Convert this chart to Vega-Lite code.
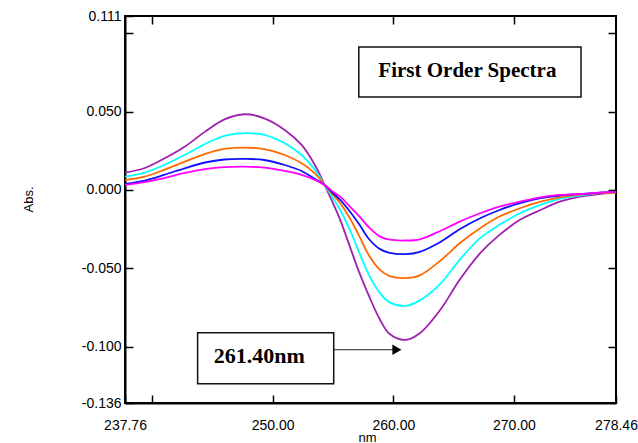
{
  "$schema": "https://vega.github.io/schema/vega-lite/v6.json",
  "width": 491,
  "height": 387,
  "autosize": {"type": "none"},
  "padding": {"left": 125, "top": 16, "right": 22, "bottom": 40},
  "background": "white",
  "config": {
    "view": {"stroke": "black", "strokeWidth": 2},
    "axis": {
      "grid": false,
      "domainColor": "black",
      "domainWidth": 2,
      "tickColor": "black",
      "tickWidth": 1.5,
      "tickSize": -8,
      "labelFont": "Liberation Sans",
      "labelFontSize": 14,
      "labelColor": "black",
      "titleFont": "Liberation Sans",
      "titleFontSize": 13,
      "titleFontWeight": "normal",
      "titleColor": "black"
    }
  },
  "datasets": {
    "curves": [
      {"nm":237.76,"s":"1","abs":0.0110},{"nm":239.4,"s":"1","abs":0.0140},{"nm":241.0,"s":"1","abs":0.0200},{"nm":242.7,"s":"1","abs":0.0276},{"nm":244.4,"s":"1","abs":0.0372},{"nm":246.0,"s":"1","abs":0.0450},{"nm":247.7,"s":"1","abs":0.0483},{"nm":249.3,"s":"1","abs":0.0457},{"nm":251.0,"s":"1","abs":0.0383},{"nm":252.4,"s":"1","abs":0.0287},{"nm":253.5,"s":"1","abs":0.0159},{"nm":254.3,"s":"1","abs":0.0032},{"nm":255.0,"s":"1","abs":-0.0085},{"nm":255.6,"s":"1","abs":-0.0191},{"nm":256.4,"s":"1","abs":-0.0362},{"nm":257.2,"s":"1","abs":-0.0531},{"nm":258.0,"s":"1","abs":-0.0680},{"nm":258.9,"s":"1","abs":-0.0829},{"nm":259.7,"s":"1","abs":-0.0920},{"nm":261.0,"s":"1","abs":-0.0957},{"nm":262.2,"s":"1","abs":-0.0915},{"nm":263.9,"s":"1","abs":-0.0765},{"nm":265.5,"s":"1","abs":-0.0574},{"nm":267.2,"s":"1","abs":-0.0404},{"nm":268.8,"s":"1","abs":-0.0287},{"nm":270.5,"s":"1","abs":-0.0191},{"nm":272.2,"s":"1","abs":-0.0128},{"nm":273.8,"s":"1","abs":-0.0075},{"nm":275.5,"s":"1","abs":-0.0043},{"nm":277.1,"s":"1","abs":-0.0026},{"nm":278.46,"s":"1","abs":-0.0017},
      {"nm":237.76,"s":"2","abs":0.0085},{"nm":239.4,"s":"2","abs":0.0110},{"nm":241.0,"s":"2","abs":0.0159},{"nm":242.7,"s":"2","abs":0.0223},{"nm":244.4,"s":"2","abs":0.0293},{"nm":246.0,"s":"2","abs":0.0345},{"nm":247.7,"s":"2","abs":0.0362},{"nm":249.3,"s":"2","abs":0.0351},{"nm":251.0,"s":"2","abs":0.0298},{"nm":252.4,"s":"2","abs":0.0223},{"nm":253.5,"s":"2","abs":0.0128},{"nm":254.3,"s":"2","abs":0.0032},{"nm":255.0,"s":"2","abs":-0.0053},{"nm":255.6,"s":"2","abs":-0.0128},{"nm":256.4,"s":"2","abs":-0.0255},{"nm":257.2,"s":"2","abs":-0.0404},{"nm":258.0,"s":"2","abs":-0.0545},{"nm":258.9,"s":"2","abs":-0.0659},{"nm":259.7,"s":"2","abs":-0.0718},{"nm":261.0,"s":"2","abs":-0.0740},{"nm":262.2,"s":"2","abs":-0.0705},{"nm":263.9,"s":"2","abs":-0.0600},{"nm":265.5,"s":"2","abs":-0.0446},{"nm":267.2,"s":"2","abs":-0.0308},{"nm":268.8,"s":"2","abs":-0.0223},{"nm":270.5,"s":"2","abs":-0.0149},{"nm":272.2,"s":"2","abs":-0.0096},{"nm":273.8,"s":"2","abs":-0.0057},{"nm":275.5,"s":"2","abs":-0.0036},{"nm":277.1,"s":"2","abs":-0.0021},{"nm":278.46,"s":"2","abs":-0.0017},
      {"nm":237.76,"s":"3","abs":0.0064},{"nm":239.4,"s":"3","abs":0.0085},{"nm":241.0,"s":"3","abs":0.0128},{"nm":242.7,"s":"3","abs":0.0180},{"nm":244.4,"s":"3","abs":0.0230},{"nm":246.0,"s":"3","abs":0.0262},{"nm":247.7,"s":"3","abs":0.0270},{"nm":249.3,"s":"3","abs":0.0261},{"nm":251.0,"s":"3","abs":0.0223},{"nm":252.4,"s":"3","abs":0.0170},{"nm":253.5,"s":"3","abs":0.0106},{"nm":254.3,"s":"3","abs":0.0032},{"nm":255.0,"s":"3","abs":-0.0032},{"nm":255.6,"s":"3","abs":-0.0085},{"nm":256.4,"s":"3","abs":-0.0181},{"nm":257.2,"s":"3","abs":-0.0298},{"nm":258.0,"s":"3","abs":-0.0420},{"nm":258.9,"s":"3","abs":-0.0510},{"nm":259.7,"s":"3","abs":-0.0550},{"nm":261.0,"s":"3","abs":-0.0563},{"nm":262.2,"s":"3","abs":-0.0545},{"nm":263.9,"s":"3","abs":-0.0452},{"nm":265.5,"s":"3","abs":-0.0340},{"nm":267.2,"s":"3","abs":-0.0244},{"nm":268.8,"s":"3","abs":-0.0170},{"nm":270.5,"s":"3","abs":-0.0117},{"nm":272.2,"s":"3","abs":-0.0075},{"nm":273.8,"s":"3","abs":-0.0047},{"nm":275.5,"s":"3","abs":-0.0030},{"nm":277.1,"s":"3","abs":-0.0021},{"nm":278.46,"s":"3","abs":-0.0017},
      {"nm":237.76,"s":"4","abs":0.0038},{"nm":239.4,"s":"4","abs":0.0060},{"nm":241.0,"s":"4","abs":0.0096},{"nm":242.7,"s":"4","abs":0.0138},{"nm":244.4,"s":"4","abs":0.0175},{"nm":246.0,"s":"4","abs":0.0194},{"nm":247.7,"s":"4","abs":0.0198},{"nm":249.3,"s":"4","abs":0.0191},{"nm":251.0,"s":"4","abs":0.0159},{"nm":252.4,"s":"4","abs":0.0121},{"nm":253.5,"s":"4","abs":0.0070},{"nm":254.3,"s":"4","abs":0.0032},{"nm":255.0,"s":"4","abs":-0.0021},{"nm":255.6,"s":"4","abs":-0.0064},{"nm":256.4,"s":"4","abs":-0.0138},{"nm":257.2,"s":"4","abs":-0.0223},{"nm":258.0,"s":"4","abs":-0.0315},{"nm":258.9,"s":"4","abs":-0.0378},{"nm":259.7,"s":"4","abs":-0.0402},{"nm":261.0,"s":"4","abs":-0.0410},{"nm":262.2,"s":"4","abs":-0.0395},{"nm":263.9,"s":"4","abs":-0.0332},{"nm":265.5,"s":"4","abs":-0.0251},{"nm":267.2,"s":"4","abs":-0.0181},{"nm":268.8,"s":"4","abs":-0.0128},{"nm":270.5,"s":"4","abs":-0.0085},{"nm":272.2,"s":"4","abs":-0.0053},{"nm":273.8,"s":"4","abs":-0.0036},{"nm":275.5,"s":"4","abs":-0.0026},{"nm":277.1,"s":"4","abs":-0.0017},{"nm":278.46,"s":"4","abs":-0.0013},
      {"nm":237.76,"s":"5","abs":0.0032},{"nm":239.4,"s":"5","abs":0.0050},{"nm":241.0,"s":"5","abs":0.0075},{"nm":242.7,"s":"5","abs":0.0108},{"nm":244.4,"s":"5","abs":0.0133},{"nm":246.0,"s":"5","abs":0.0146},{"nm":247.7,"s":"5","abs":0.0149},{"nm":249.3,"s":"5","abs":0.0142},{"nm":251.0,"s":"5","abs":0.0121},{"nm":252.4,"s":"5","abs":0.0096},{"nm":253.5,"s":"5","abs":0.0064},{"nm":254.3,"s":"5","abs":0.0032},{"nm":255.0,"s":"5","abs":-0.0011},{"nm":255.6,"s":"5","abs":-0.0043},{"nm":256.4,"s":"5","abs":-0.0106},{"nm":257.2,"s":"5","abs":-0.0170},{"nm":258.0,"s":"5","abs":-0.0240},{"nm":258.9,"s":"5","abs":-0.0298},{"nm":259.7,"s":"5","abs":-0.0318},{"nm":261.0,"s":"5","abs":-0.0323},{"nm":262.2,"s":"5","abs":-0.0315},{"nm":263.9,"s":"5","abs":-0.0262},{"nm":265.5,"s":"5","abs":-0.0202},{"nm":267.2,"s":"5","abs":-0.0149},{"nm":268.8,"s":"5","abs":-0.0106},{"nm":270.5,"s":"5","abs":-0.0075},{"nm":272.2,"s":"5","abs":-0.0047},{"nm":273.8,"s":"5","abs":-0.0032},{"nm":275.5,"s":"5","abs":-0.0026},{"nm":277.1,"s":"5","abs":-0.0017},{"nm":278.46,"s":"5","abs":-0.0013}
    ],
    "boxes": [
      {"x1": 257.14, "x2": 275.56, "y1": 0.0912, "y2": 0.0593},
      {"x1": 243.78, "x2": 255.06, "y1": -0.0912, "y2": -0.1237}
    ],
    "title1": [{"x": 266.14, "y": 0.0723, "t": "First Order Spectra"}],
    "title2": [{"x": 248.89, "y": -0.1105, "t": "261.40nm"}],
    "arrow": [{"x1": 255.06, "x2": 260.0, "y": -0.102}],
    "head": [{"x": 260.3, "y": -0.102}]
  },
  "resolve": {"axis": {"x": "independent", "y": "independent"}},
  "layer": [
    {
      "data": {"name": "curves"},
      "mark": {"type": "line", "strokeWidth": 1.8, "interpolate": "catmull-rom"},
      "encoding": {
        "x": {
          "field": "nm", "type": "quantitative",
          "scale": {"domain": [237.76, 278.46], "nice": false, "zero": false},
          "axis": {
            "orient": "bottom",
            "values": [237.76, 240, 250, 260, 270, 278.46],
            "labelExpr": "datum.value == 240 ? '' : format(datum.value, '.2f')",
            "labelPadding": 23,
            "labelFlush": false,
            "labelOverlap": false,
            "title": "nm",
            "titleBaseline": "top",
            "titleY": 28,
            "titleX": 242,
            "titleFontSize": 13
          }
        },
        "y": {
          "field": "abs", "type": "quantitative",
          "scale": {"domain": [-0.136, 0.111], "nice": false, "zero": false},
          "axis": {
            "orient": "left",
            "values": [-0.136, -0.1, -0.05, 0, 0.05, 0.1, 0.111],
            "labelExpr": "datum.value == 0.1 ? '' : replace(format(datum.value, '.3f'), '\u2212', '-')",
            "labelPadding": 12,
            "labelFlush": false,
            "labelOverlap": false,
            "title": "Abs.",
            "titleAngle": -90,
            "titleAlign": "center",
            "titleBaseline": "middle",
            "titleX": -97,
            "titleY": 183
          }
        },
        "color": {
          "field": "s", "type": "nominal",
          "scale": {"domain": ["1", "2", "3", "4", "5"], "range": ["#A020B0", "#00FFFF", "#FF6A00", "#1010FF", "#FF00FF"]},
          "legend": null
        }
      }
    },
    {
      "data": {"name": "boxes"},
      "mark": {"type": "rect", "fill": "white", "stroke": "#111111", "strokeWidth": 1.5},
      "encoding": {
        "x": {"field": "x1", "type": "quantitative", "scale": {"domain": [237.76, 278.46], "nice": false, "zero": false},
              "axis": {"orient": "top", "values": [240, 250, 260, 270], "labels": false, "domain": false, "title": null}},
        "x2": {"field": "x2"},
        "y": {"field": "y1", "type": "quantitative", "scale": {"domain": [-0.136, 0.111], "nice": false, "zero": false},
              "axis": {"orient": "right", "values": [-0.1, -0.05, 0, 0.05, 0.1], "labels": false, "domain": false, "title": null}},
        "y2": {"field": "y2"}
      }
    },
    {
      "data": {"name": "title1"},
      "mark": {"type": "text", "font": "Liberation Serif", "fontWeight": "bold", "fontSize": 21, "align": "center", "baseline": "alphabetic", "color": "black"},
      "encoding": {
        "x": {"field": "x", "type": "quantitative", "axis": null},
        "y": {"field": "y", "type": "quantitative", "axis": null},
        "text": {"field": "t"}
      }
    },
    {
      "data": {"name": "title2"},
      "mark": {"type": "text", "font": "Liberation Serif", "fontWeight": "bold", "fontSize": 22, "align": "center", "baseline": "alphabetic", "color": "black"},
      "encoding": {
        "x": {"field": "x", "type": "quantitative", "axis": null},
        "y": {"field": "y", "type": "quantitative", "axis": null},
        "text": {"field": "t"}
      }
    },
    {
      "data": {"name": "arrow"},
      "mark": {"type": "rule", "color": "#222222", "strokeWidth": 1.2},
      "encoding": {
        "x": {"field": "x1", "type": "quantitative", "axis": null},
        "x2": {"field": "x2"},
        "y": {"field": "y", "type": "quantitative", "axis": null}
      }
    },
    {
      "data": {"name": "head"},
      "mark": {"type": "point", "shape": "triangle-right", "filled": true, "color": "black", "size": 110, "opacity": 1},
      "encoding": {
        "x": {"field": "x", "type": "quantitative", "axis": null},
        "y": {"field": "y", "type": "quantitative", "axis": null}
      }
    }
  ]
}
